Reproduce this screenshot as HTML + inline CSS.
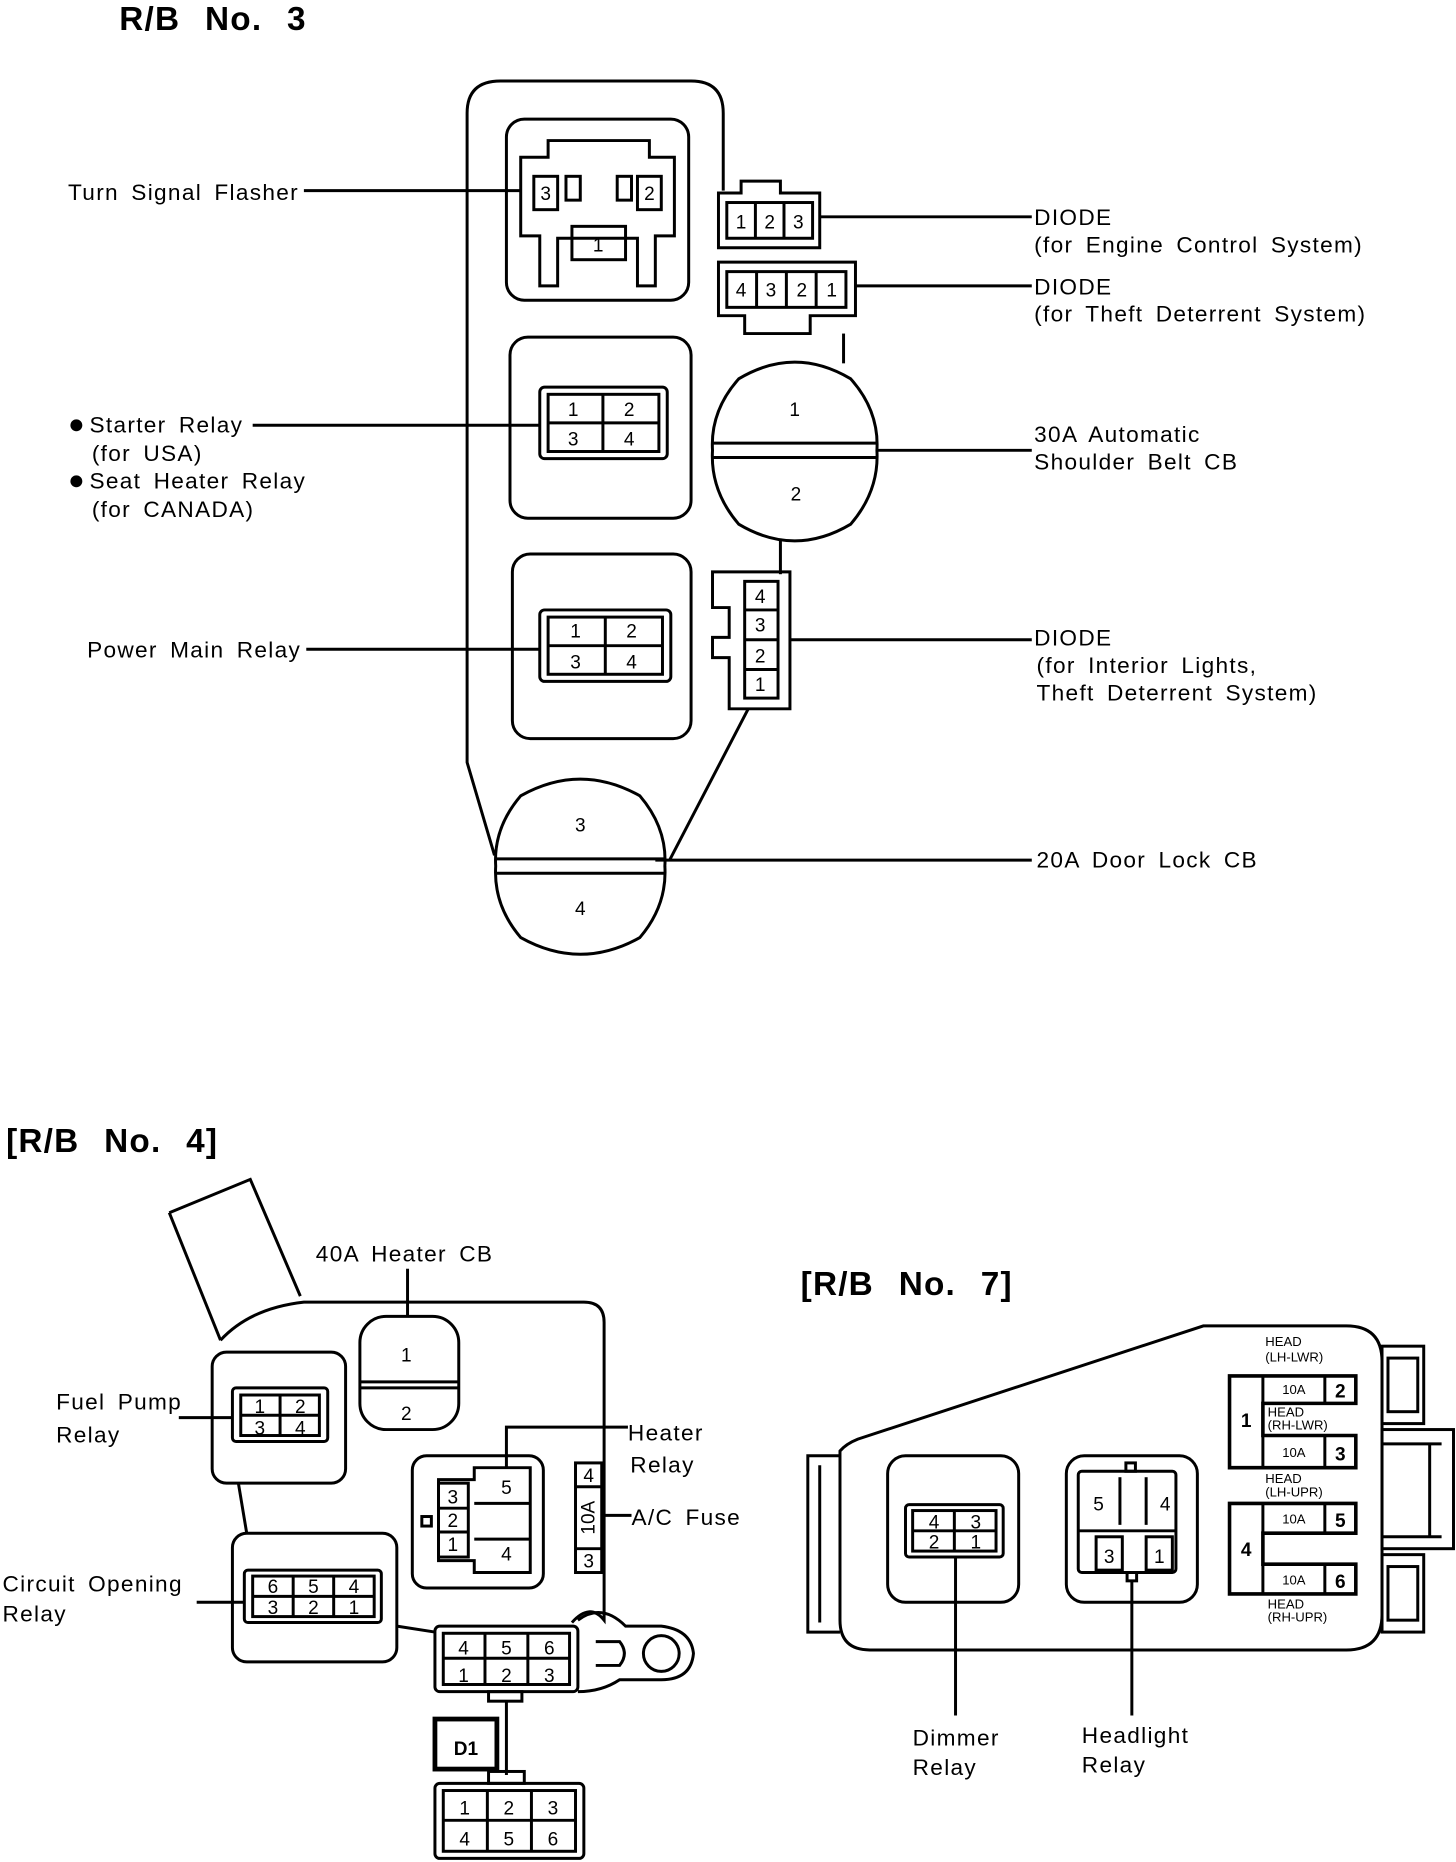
<!DOCTYPE html>
<html><head><meta charset="utf-8"><style>
html,body{margin:0;padding:0;background:#fff;}
svg{display:block;}
text{font-family:"Liberation Sans",sans-serif;fill:#000;}
.t{font-size:19px;letter-spacing:1.1px;word-spacing:4px;}
.n{font-size:16px;text-anchor:middle;}
.s{font-size:11px;}
.b{font-weight:bold;}
.h{word-spacing:12px;letter-spacing:1px;}
</style></head><body>
<svg width="1456" height="1862" viewBox="0 0 1222 1563" xmlns="http://www.w3.org/2000/svg">
<g fill="none" stroke="#000" stroke-width="2.5">
<!-- R/B 3 housing -->
<path d="M415,718 L392,640 L392,95 Q392,68 420,68 L580,68 Q607,68 607,95 L607,160"/>
<line x1="708" y1="280" x2="708" y2="305"/>
<line x1="655" y1="452" x2="655" y2="482"/>
<line x1="628" y1="595" x2="562" y2="722"/>
<!-- turn signal flasher -->
<rect x="425" y="100" width="153" height="152" rx="15"/>
<path d="M437,132 L460,132 L460,118 L545,118 L545,132 L566,132 L566,198 L550,198 L550,240 L535,240 L535,200 L468,200 L468,240 L453,240 L453,198 L437,198 Z"/>
<rect x="448" y="148" width="20" height="28"/><rect x="535" y="148" width="20" height="28"/>
<rect x="480" y="190" width="45" height="28"/>
<rect x="475" y="148" width="12" height="20"/><rect x="518" y="148" width="12" height="20"/>
<!-- diodes -->
<path d="M603,162 L622,162 L622,152 L655,152 L655,162 L688,162 L688,208 L603,208 Z"/>
<rect x="610" y="170" width="72" height="30"/><line x1="634" y1="170" x2="634" y2="200"/><line x1="658" y1="170" x2="658" y2="200"/>
<path d="M603,220 L718,220 L718,265 L680,265 L680,280 L625,280 L625,265 L603,265 Z"/>
<rect x="610" y="228" width="100" height="30"/><line x1="635" y1="228" x2="635" y2="258"/><line x1="660" y1="228" x2="660" y2="258"/><line x1="685" y1="228" x2="685" y2="258"/>
<!-- 30A circle -->
<path d="M620,318 Q667,290 714,318 Q738,345 736,378 Q738,412 714,440 Q667,468 620,440 Q596,412 598,378 Q596,345 620,318 Z"/>
<line x1="598" y1="372" x2="736" y2="372"/><line x1="598" y1="384" x2="736" y2="384"/>
<!-- starter relay -->
<rect x="428" y="283" width="152" height="152" rx="15"/>
<rect x="453" y="325" width="107" height="60" rx="4"/>
<rect x="460" y="331" width="93" height="48"/><line x1="506" y1="331" x2="506" y2="379"/><line x1="460" y1="355" x2="553" y2="355"/>
<!-- power main relay -->
<rect x="430" y="465" width="150" height="155" rx="15"/>
<rect x="453" y="512" width="110" height="60" rx="4"/>
<rect x="460" y="518" width="96" height="48"/><line x1="508" y1="518" x2="508" y2="566"/><line x1="460" y1="542" x2="556" y2="542"/>
<!-- vertical diode -->
<path d="M598,480 L663,480 L663,595 L612,595 L612,552 L598,552 L598,535 L612,535 L612,510 L598,510 Z"/>
<rect x="625" y="488" width="28" height="98"/><line x1="625" y1="512" x2="653" y2="512"/><line x1="625" y1="537" x2="653" y2="537"/><line x1="625" y1="562" x2="653" y2="562"/>
<!-- 20A circle -->
<path d="M437,668 Q487,640 537,668 Q560,695 558,727 Q560,760 537,787 Q487,815 437,787 Q414,760 416,727 Q414,695 437,668 Z"/>
<line x1="416" y1="721" x2="558" y2="721"/><line x1="416" y1="733" x2="558" y2="733"/>
<!-- leader lines rb3 -->
<line x1="255" y1="160" x2="437" y2="160"/>
<line x1="688" y1="182" x2="866" y2="182"/>
<line x1="718" y1="240" x2="866" y2="240"/>
<line x1="736" y1="378" x2="866" y2="378"/>
<line x1="212" y1="357" x2="453" y2="357"/>
<line x1="257" y1="545" x2="453" y2="545"/>
<line x1="663" y1="537" x2="866" y2="537"/>
<line x1="550" y1="722" x2="866" y2="722"/>

<!-- R/B 4 -->
<path d="M142,1018 L210,990 L252,1088"/>
<path d="M142,1018 L185,1125"/>
<path d="M185,1125 Q210,1098 255,1093 L490,1093 Q507,1093 507,1110 L507,1360 Q495,1345 480,1362"/>
<path d="M200,1245 L207,1287"/>
<path d="M333,1365 L365,1370"/>
<rect x="302" y="1105" width="83" height="95" rx="22"/><line x1="302" y1="1160" x2="385" y2="1160"/><line x1="302" y1="1165" x2="385" y2="1165"/>
<line x1="342" y1="1065" x2="342" y2="1105"/>
<rect x="178" y="1135" width="112" height="110" rx="12"/>
<rect x="195" y="1165" width="80" height="45" rx="3"/><rect x="202" y="1171" width="66" height="34"/><line x1="235" y1="1171" x2="235" y2="1205"/><line x1="202" y1="1188" x2="268" y2="1188"/>
<line x1="150" y1="1190" x2="195" y2="1190"/>
<rect x="346" y="1222" width="110" height="111" rx="12"/>
<path d="M368,1242 L398,1242 L398,1232 L445,1232 L445,1320 L398,1320 L398,1310 L368,1310 Z"/>
<rect x="368" y="1245" width="25" height="62"/><line x1="368" y1="1266" x2="393" y2="1266"/><line x1="368" y1="1286" x2="393" y2="1286"/>
<line x1="398" y1="1262" x2="445" y2="1262"/><line x1="398" y1="1292" x2="445" y2="1292"/><rect x="354" y="1273" width="8" height="8"/>
<path d="M425,1232 L425,1198 L527,1198"/>
<rect x="483" y="1228" width="22" height="92"/><line x1="483" y1="1248" x2="505" y2="1248"/><line x1="483" y1="1300" x2="505" y2="1300"/>
<line x1="505" y1="1272" x2="530" y2="1272"/>
<rect x="195" y="1287" width="138" height="108" rx="12"/>
<rect x="205" y="1318" width="115" height="44" rx="3"/><rect x="212" y="1323" width="102" height="34"/><line x1="246" y1="1323" x2="246" y2="1357"/><line x1="280" y1="1323" x2="280" y2="1357"/><line x1="212" y1="1340" x2="314" y2="1340"/>
<line x1="165" y1="1345" x2="205" y2="1345"/>
<rect x="365" y="1365" width="120" height="55" rx="4"/><line x1="372" y1="1392" x2="478" y2="1392"/><rect x="372" y="1371" width="106" height="43"/><line x1="407" y1="1371" x2="407" y2="1414"/><line x1="443" y1="1371" x2="443" y2="1414"/>
<path d="M485,1360 Q505,1345 525,1365 L555,1365 Q580,1368 582,1388 Q580,1410 555,1410 L520,1410 Q505,1420 485,1420"/>
<circle cx="555" cy="1388" r="15"/>
<path d="M500,1378 L520,1378 Q528,1388 520,1398 L500,1398"/>
<rect x="410" y="1420" width="28" height="8"/>
<line x1="425" y1="1428" x2="425" y2="1490"/>
<rect x="365" y="1443" width="52" height="42" stroke-width="4"/>
<rect x="410" y="1487" width="30" height="10"/>
<rect x="365" y="1497" width="125" height="63" rx="4"/><rect x="372" y="1503" width="111" height="51"/><line x1="372" y1="1528" x2="483" y2="1528"/><line x1="409" y1="1503" x2="409" y2="1554"/><line x1="446" y1="1503" x2="446" y2="1554"/>

<!-- R/B 7 -->
<path d="M705,1218 Q710,1212 720,1208 L1010,1113 L1130,1113 Q1160,1113 1160,1143 L1160,1355 Q1160,1385 1130,1385 L730,1385 Q705,1385 705,1360 Z"/>
<path d="M705,1222 L678,1222 L678,1370 L705,1370"/><line x1="688" y1="1230" x2="688" y2="1362"/>
<rect x="1160" y="1130" width="35" height="65"/><rect x="1165" y="1140" width="25" height="45"/>
<rect x="1160" y="1200" width="60" height="100"/><line x1="1160" y1="1212" x2="1210" y2="1212"/><line x1="1160" y1="1290" x2="1210" y2="1290"/><line x1="1200" y1="1212" x2="1200" y2="1290"/>
<rect x="1160" y="1305" width="35" height="65"/><rect x="1165" y="1315" width="25" height="45"/>
<rect x="745" y="1222" width="110" height="123" rx="15"/>
<rect x="760" y="1263" width="82" height="44" rx="3"/><rect x="766" y="1268" width="70" height="34"/><line x1="801" y1="1268" x2="801" y2="1302"/><line x1="766" y1="1285" x2="836" y2="1285"/>
<line x1="802" y1="1307" x2="802" y2="1440"/>
<rect x="895" y="1222" width="110" height="123" rx="15"/>
<rect x="905" y="1235" width="82" height="85" rx="3"/><line x1="905" y1="1285" x2="987" y2="1285"/><line x1="940" y1="1240" x2="940" y2="1280"/><line x1="962" y1="1240" x2="962" y2="1280"/>
<rect x="920" y="1290" width="22" height="28"/><rect x="962" y="1290" width="22" height="28"/>
<rect x="945" y="1228" width="8" height="7"/><rect x="946" y="1320" width="8" height="7"/>
<line x1="950" y1="1327" x2="950" y2="1440"/>
<path d="M1032,1155 L1138,1155 L1138,1178 L1060,1178 L1060,1205 L1138,1205 L1138,1232 L1032,1232 Z" stroke-width="3"/>
<line x1="1060" y1="1155" x2="1060" y2="1178"/><line x1="1060" y1="1205" x2="1060" y2="1232"/>
<line x1="1112" y1="1155" x2="1112" y2="1178"/><line x1="1112" y1="1205" x2="1112" y2="1232"/>
<path d="M1032,1262 L1138,1262 L1138,1287 L1060,1287 L1060,1313 L1138,1313 L1138,1338 L1032,1338 Z" stroke-width="3"/>
<line x1="1060" y1="1262" x2="1060" y2="1287"/><line x1="1060" y1="1313" x2="1060" y2="1338"/>
<line x1="1112" y1="1262" x2="1112" y2="1287"/><line x1="1112" y1="1313" x2="1112" y2="1338"/>
</g>

<!-- text -->
<text x="100" y="25" font-size="28" class="b h">R/B No. 3</text>
<text x="57" y="168" class="t">Turn Signal Flasher</text>
<text x="868" y="189" class="t">DIODE</text><text x="868" y="212" class="t">(for Engine Control System)</text>
<text x="868" y="247" class="t">DIODE</text><text x="868" y="270" class="t">(for Theft Deterrent System)</text>
<text x="868" y="371" class="t">30A Automatic</text><text x="868" y="394" class="t">Shoulder Belt CB</text>
<circle cx="64" cy="357" r="5" fill="#000"/><text x="75" y="363" class="t">Starter Relay</text>
<text x="77" y="387" class="t">(for USA)</text>
<circle cx="64" cy="404" r="5" fill="#000"/><text x="75" y="410" class="t">Seat Heater Relay</text>
<text x="77" y="434" class="t">(for CANADA)</text>
<text x="73" y="552" class="t">Power Main Relay</text>
<text x="868" y="542" class="t">DIODE</text><text x="870" y="565" class="t">(for Interior Lights,</text><text x="870" y="588" class="t">Theft Deterrent System)</text>
<text x="870" y="728" class="t">20A Door Lock CB</text>
<text x="458" y="168" class="n">3</text><text x="545" y="168" class="n">2</text><text x="502" y="211" class="n">1</text>
<text x="622" y="192" class="n">1</text><text x="646" y="192" class="n">2</text><text x="670" y="192" class="n">3</text>
<text x="622" y="249" class="n">4</text><text x="647" y="249" class="n">3</text><text x="673" y="249" class="n">2</text><text x="698" y="249" class="n">1</text>
<text x="667" y="349" class="n">1</text><text x="668" y="420" class="n">2</text>
<text x="481" y="349" class="n">1</text><text x="528" y="349" class="n">2</text><text x="481" y="374" class="n">3</text><text x="528" y="374" class="n">4</text>
<text x="483" y="535" class="n">1</text><text x="530" y="535" class="n">2</text><text x="483" y="561" class="n">3</text><text x="530" y="561" class="n">4</text>
<text x="638" y="506" class="n">4</text><text x="638" y="530" class="n">3</text><text x="638" y="556" class="n">2</text><text x="638" y="580" class="n">1</text>
<text x="487" y="698" class="n">3</text><text x="487" y="768" class="n">4</text>

<text x="5" y="967" font-size="28" class="b h">[R/B No. 4]</text>
<text x="265" y="1059" class="t">40A Heater CB</text>
<text x="341" y="1143" class="n">1</text><text x="341" y="1192" class="n">2</text>
<text x="47" y="1183" class="t">Fuel Pump</text><text x="47" y="1211" class="t">Relay</text>
<text x="218" y="1186" class="n">1</text><text x="252" y="1186" class="n">2</text><text x="218" y="1204" class="n">3</text><text x="252" y="1204" class="n">4</text>
<text x="527" y="1209" class="t">Heater</text><text x="529" y="1236" class="t">Relay</text>
<text x="530" y="1280" class="t">A/C Fuse</text>
<text x="380" y="1262" class="n">3</text><text x="380" y="1282" class="n">2</text><text x="380" y="1302" class="n">1</text>
<text x="425" y="1254" class="n">5</text><text x="425" y="1310" class="n">4</text>
<text x="494" y="1244" class="n" font-size="14">4</text><text x="494" y="1316" class="n" font-size="14">3</text>
<text x="0" y="0" class="n" font-size="12" transform="translate(499,1274) rotate(-90)">10A</text>
<text x="2" y="1336" class="t">Circuit Opening</text><text x="2" y="1361" class="t">Relay</text>
<text x="229" y="1337" class="n">6</text><text x="263" y="1337" class="n">5</text><text x="297" y="1337" class="n">4</text>
<text x="229" y="1355" class="n">3</text><text x="263" y="1355" class="n">2</text><text x="297" y="1355" class="n">1</text>
<text x="389" y="1389" class="n">4</text><text x="425" y="1389" class="n">5</text><text x="461" y="1389" class="n">6</text>
<text x="389" y="1412" class="n">1</text><text x="425" y="1412" class="n">2</text><text x="461" y="1412" class="n">3</text>
<text x="391" y="1473" class="n b" font-size="24">D1</text>
<text x="390" y="1523" class="n">1</text><text x="427" y="1523" class="n">2</text><text x="464" y="1523" class="n">3</text>
<text x="390" y="1549" class="n">4</text><text x="427" y="1549" class="n">5</text><text x="464" y="1549" class="n">6</text>

<text x="672" y="1087" font-size="28" class="b h">[R/B No. 7]</text>
<text x="784" y="1283" class="n">4</text><text x="819" y="1283" class="n">3</text><text x="784" y="1300" class="n">2</text><text x="819" y="1300" class="n">1</text>
<text x="922" y="1268" class="n" font-size="18">5</text><text x="978" y="1268" class="n" font-size="18">4</text>
<text x="931" y="1312" class="n" font-size="18">3</text><text x="973" y="1312" class="n" font-size="18">1</text>
<text x="766" y="1465" class="t">Dimmer</text><text x="766" y="1490" class="t">Relay</text>
<text x="908" y="1463" class="t">Headlight</text><text x="908" y="1488" class="t">Relay</text>
<text x="1062" y="1130" class="s">HEAD</text><text x="1062" y="1143" class="s">(LH-LWR)</text>
<text x="1046" y="1198" class="n b" font-size="18">1</text>
<text x="1086" y="1170" class="n s">10A</text><text x="1125" y="1173" class="n b" font-size="18">2</text>
<text x="1064" y="1189" class="s">HEAD</text><text x="1064" y="1200" class="s">(RH-LWR)</text>
<text x="1086" y="1223" class="n s">10A</text><text x="1125" y="1226" class="n b" font-size="18">3</text>
<text x="1062" y="1245" class="s">HEAD</text><text x="1062" y="1256" class="s">(LH-UPR)</text>
<text x="1046" y="1306" class="n b" font-size="18">4</text>
<text x="1086" y="1279" class="n s">10A</text><text x="1125" y="1282" class="n b" font-size="18">5</text>
<text x="1086" y="1330" class="n s">10A</text><text x="1125" y="1333" class="n b" font-size="18">6</text>
<text x="1064" y="1350" class="s">HEAD</text><text x="1064" y="1361" class="s">(RH-UPR)</text>
</svg>
</body></html>
